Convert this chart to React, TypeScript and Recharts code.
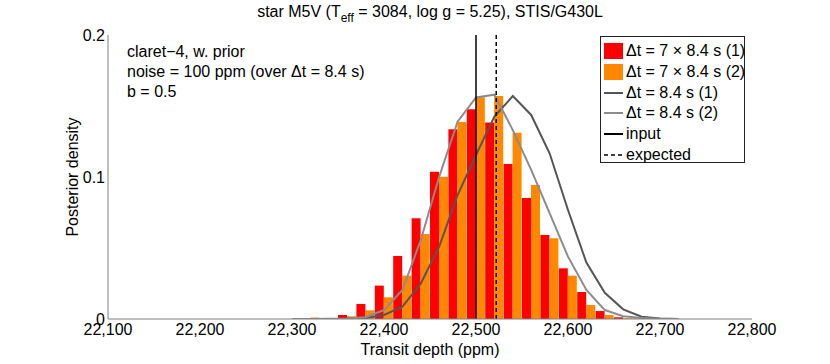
import React from 'react';
import { ComposedChart, Bar, Line, XAxis, YAxis, ReferenceLine, Legend } from 'recharts';

const FONT = '"Liberation Sans", Arial, Helvetica, sans-serif';

const depth = [22300, 22320, 22340, 22360, 22380, 22400, 22420, 22440, 22460, 22480, 22500, 22520, 22540, 22560, 22580, 22600, 22620, 22640, 22660, 22680, 22700, 22720];
const hist1 = [0, 0, 0.0007, 0.0028, 0.0106, 0.0235, 0.0444, 0.0709, 0.1037, 0.1336, 0.1477, 0.1383, 0.1092, 0.0852, 0.0592, 0.0357, 0.019, 0.0056, 0.0012, 0.0003, 0, 0];
const hist2 = [0, 0.001, 0, 0.0019, 0.0061, 0.0153, 0.0305, 0.0599, 0.1002, 0.1387, 0.1561, 0.157, 0.1312, 0.0944, 0.0568, 0.0305, 0.0099, 0.0028, 0.0005, 0.0002, 0, 0];
const curve1 = [0, 0, 0, 0.0002, 0.0007, 0.0028, 0.0087, 0.025, 0.051, 0.0873, 0.1155, 0.1425, 0.157, 0.1437, 0.1167, 0.0768, 0.0397, 0.0185, 0.0068, 0.0016, 0.0003, 0];
const curve2 = [0, 0, 0.0001, 0.0003, 0.0012, 0.0063, 0.0204, 0.0556, 0.1002, 0.139, 0.156, 0.158, 0.133, 0.105, 0.0746, 0.0439, 0.0204, 0.0063, 0.002, 0.0007, 0.0002, 0];

const xTicks = [22100, 22200, 22300, 22400, 22500, 22600, 22700, 22800];
const yTicks = [0, 0.1, 0.2];
const inputDepth = 22500;
const expectedDepth = 22522;

const titleMain = 'star M5V (T';
const titleSub = 'eff';
const titleRest = ' = 3084, log g = 5.25), STIS/G430L';
const notes = ['claret\u22124, w. prior', 'noise = 100 ppm (over \u0394t = 8.4 s)', 'b = 0.5'];

const COLORS = { h1: '#ff0000', h2: '#ff8800', c1: '#555555', c2: '#8c8c8c', axis: '#808080' };

const legendItems = [
  { label: '\u0394t = 7 \u00d7 8.4 s (1)', kind: 'rect', color: COLORS.h1 },
  { label: '\u0394t = 7 \u00d7 8.4 s (2)', kind: 'rect', color: COLORS.h2 },
  { label: '\u0394t = 8.4 s (1)', kind: 'line', color: COLORS.c1 },
  { label: '\u0394t = 8.4 s (2)', kind: 'line', color: COLORS.c2 },
  { label: 'input', kind: 'line', color: '#000000' },
  { label: 'expected', kind: 'dash', color: '#000000' },
];

const data = depth.map((d, i) => ({ depth: d, h1: hist1[i], h2: hist2[i], c1: curve1[i], c2: curve2[i] }));

const fmtX = (v: number) => v.toLocaleString('en-US');

const LegendBox = () => (
  <div
    style={{
      border: '1px solid #222',
      background: '#fff',
      width: 145,
      height: 127,
      paddingTop: 4,
      boxSizing: 'border-box',
      fontFamily: FONT,
      fontSize: 16,
      color: '#000',
    }}
  >
    {legendItems.map((it) => (
      <div key={it.label} style={{ height: 20.7, display: 'flex', alignItems: 'center', whiteSpace: 'nowrap' }}>
        <svg width={25} height={20} style={{ flex: 'none' }}>
          {it.kind === 'rect' && <rect x={3} y={2} width={19} height={16} fill={it.color} />}
          {it.kind === 'line' && <line x1={3} x2={22} y1={10} y2={10} stroke={it.color} strokeWidth={2} />}
          {it.kind === 'dash' && (
            <line x1={3} x2={22} y1={10} y2={10} stroke={it.color} strokeWidth={1.5} strokeDasharray="4 3" />
          )}
        </svg>
        <span style={{ lineHeight: '20px' }}>{it.label}</span>
      </div>
    ))}
  </div>
);

export default function App() {
  return (
    <div style={{ position: 'absolute', left: 0, top: 0, width: 830, height: 364, background: '#fff' }}>
      <ComposedChart
        width={830}
        height={364}
        data={data}
        margin={{ top: 35, right: 78, bottom: 0, left: 0 }}
        barGap={0}
        barCategoryGap={0}
        style={{ fontFamily: FONT }}
      >
        <XAxis
          dataKey="depth"
          type="number"
          domain={[22100, 22800]}
          ticks={xTicks}
          tickFormatter={fmtX}
          height={45}
          tickLine={false}
          tickSize={0}
          tickMargin={5}
          axisLine={{ stroke: COLORS.axis }}
          tick={{ fill: '#000', fontSize: 16, fontFamily: FONT }}
          allowDataOverflow
          label={{ value: 'Transit depth (ppm)', position: 'insideBottom', offset: 9, fill: '#000', fontSize: 16, fontFamily: FONT }}
        />
        <XAxis xAxisId="top" dataKey="depth" type="number" domain={[22100, 22800]} ticks={xTicks} orientation="top" mirror height={0} tick={false} tickSize={5} tickLine={{ stroke: COLORS.axis }} axisLine={{ stroke: COLORS.axis }} allowDataOverflow />
        <XAxis xAxisId="bot" dataKey="depth" type="number" domain={[22100, 22800]} ticks={xTicks} orientation="bottom" mirror height={0} tick={false} tickSize={5} tickLine={{ stroke: COLORS.axis }} axisLine={false} allowDataOverflow />
        <YAxis
          type="number"
          domain={[0, 0.2]}
          ticks={yTicks}
          width={108}
          tickLine={false}
          tickSize={0}
          tickMargin={3}
          axisLine={{ stroke: COLORS.axis }}
          tick={{ fill: '#000', fontSize: 16, fontFamily: FONT }}
          allowDataOverflow
          label={{ value: 'Posterior density', angle: -90, position: 'insideLeft', offset: 72, fill: '#000', fontSize: 16, fontFamily: FONT, style: { textAnchor: 'middle' } }}
        />
        <YAxis yAxisId="lt" type="number" domain={[0, 0.2]} ticks={yTicks} orientation="left" mirror width={0} tick={false} tickSize={5} tickLine={{ stroke: COLORS.axis }} axisLine={false} allowDataOverflow />
        <YAxis yAxisId="rt" type="number" domain={[0, 0.2]} ticks={yTicks} orientation="right" mirror width={0} tick={false} tickSize={5} tickLine={{ stroke: COLORS.axis }} axisLine={{ stroke: COLORS.axis }} allowDataOverflow />
        <Bar dataKey="h1" fill={COLORS.h1} isAnimationActive={false} />
        <Bar dataKey="h2" fill={COLORS.h2} isAnimationActive={false} />
        <Line dataKey="c1" type="linear" stroke={COLORS.c1} strokeWidth={2} dot={false} isAnimationActive={false} />
        <Line dataKey="c2" type="linear" stroke={COLORS.c2} strokeWidth={2} dot={false} isAnimationActive={false} />
        <ReferenceLine x={inputDepth} stroke="#000" strokeWidth={1.5} />
        <ReferenceLine x={expectedDepth} stroke="#000" strokeWidth={1.5} strokeDasharray="4 3" />
        <Legend
          layout="vertical"
          align="center"
          verticalAlign="middle"
          content={() => <LegendBox />}
          wrapperStyle={{ left: 600, top: 36, width: 147, height: 129 }}
        />
      </ComposedChart>
      <svg width={830} height={364} style={{ position: 'absolute', left: 0, top: 0, pointerEvents: 'none' }}>
        <text x={430} y={17} textAnchor="middle" fontSize={16} fontFamily={FONT} fill="#000">
          {titleMain}
          <tspan fontSize={12} dy={5}>{titleSub}</tspan>
          <tspan dy={-5}>{titleRest}</tspan>
        </text>
        {notes.map((n, i) => (
          <text key={n} x={127} y={57 + i * 20} fontSize={16} fontFamily={FONT} fill="#000">
            {n}
          </text>
        ))}
      </svg>
    </div>
  );
}
